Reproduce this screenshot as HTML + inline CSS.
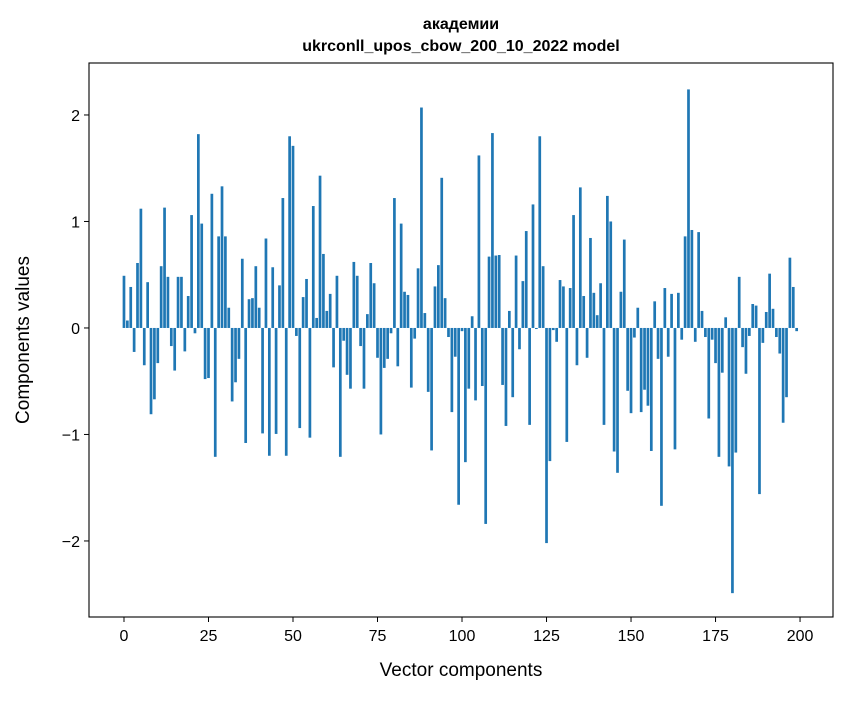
<!DOCTYPE html>
<html><head><meta charset="utf-8"><style>
body{margin:0;background:#fff;}
svg text{font-family:"Liberation Sans","DejaVu Sans",sans-serif;fill:#000;}
</style></head><body>
<svg id="chart" width="847" height="696" viewBox="0 0 847 696" xmlns="http://www.w3.org/2000/svg">
<rect x="0" y="0" width="847" height="696" fill="#fff"/>
<text x="461" y="29" text-anchor="middle" font-size="16" font-weight="bold">академии</text>
<text x="461" y="51" text-anchor="middle" font-size="16" font-weight="bold">ukrconll_upos_cbow_200_10_2022 model</text>
<g id="bars"></g>
<g id="xticks"></g>
<g id="yticks"></g>
<rect x="89" y="63" width="744" height="554" fill="none" stroke="#000" stroke-width="1.1"/>
<text x="461" y="676" text-anchor="middle" font-size="19">Vector components</text>
<text transform="translate(29,340) rotate(-90)" text-anchor="middle" font-size="19">Components values</text>
</svg>
<script>
const values = [0.49,0.07,0.385,-0.225,0.61,1.12,-0.35,0.43,-0.81,-0.67,
-0.33,0.58,1.13,0.48,-0.17,-0.40,0.48,0.48,-0.22,0.30,
1.06,-0.05,1.82,0.98,-0.48,-0.47,1.26,-1.21,0.86,1.33,
0.86,0.19,-0.69,-0.51,-0.29,0.65,-1.08,0.27,0.28,0.58,
0.19,-0.99,0.84,-1.20,0.57,-0.995,0.40,1.22,-1.20,1.80,
1.71,-0.075,-0.94,0.29,0.46,-1.03,1.145,0.094,1.43,0.695,
0.16,0.32,-0.37,0.49,-1.21,-0.12,-0.44,-0.57,0.62,0.49,
-0.17,-0.57,0.13,0.61,0.42,-0.28,-1.00,-0.375,-0.29,-0.05,
1.22,-0.36,0.98,0.34,0.31,-0.56,-0.10,0.56,2.07,0.14,
-0.60,-1.15,0.39,0.59,1.41,0.28,-0.085,-0.79,-0.27,-1.66,
-0.03,-1.26,-0.57,0.11,-0.68,1.62,-0.545,-1.84,0.67,1.83,
0.68,0.685,-0.535,-0.92,0.16,-0.65,0.68,-0.20,0.44,0.91,
-0.91,1.16,-0.01,1.80,0.58,-2.02,-1.25,-0.02,-0.13,0.45,
0.39,-1.07,0.375,1.06,-0.35,1.32,0.30,-0.28,0.845,0.33,
0.12,0.42,-0.91,1.24,1.00,-1.16,-1.36,0.34,0.83,-0.59,
-0.80,-0.09,0.19,-0.79,-0.58,-0.73,-1.155,0.25,-0.29,-1.67,
0.375,-0.27,0.32,-1.14,0.33,-0.11,0.86,2.24,0.92,-0.13,
0.90,0.16,-0.085,-0.85,-0.11,-0.33,-1.21,-0.42,0.10,-1.30,
-2.49,-1.17,0.48,-0.18,-0.43,-0.075,0.225,0.21,-1.56,-0.14,
0.15,0.51,0.18,-0.085,-0.24,-0.89,-0.65,0.66,0.385,-0.03];
const xTickValues = [0,25,50,75,100,125,150,175,200];
const yTickValues = [-2,-1,0,1,2];
const yTickLabels = ["\u22122","\u22121","0","1","2"];

const NS="http://www.w3.org/2000/svg";
const L=89,R=833,T=63,B=617;
const xMin=-10.35,xMax=209.75,yMin=-2.714,yMax=2.488;
const xs=v=>L+(v-xMin)/(xMax-xMin)*(R-L);
const ys=v=>T+(yMax-v)/(yMax-yMin)*(B-T);
const barsG=document.getElementById('bars');
values.forEach((v,i)=>{
  const r=document.createElementNS(NS,'rect');
  const x0=xs(i-0.4),x1=xs(i+0.4);
  const y0=ys(Math.max(v,0)),y1=ys(Math.min(v,0));
  r.setAttribute('x',x0);r.setAttribute('width',x1-x0);
  r.setAttribute('y',y0);r.setAttribute('height',Math.max(y1-y0,0.3));
  r.setAttribute('fill','#1f77b4');
  
  
  barsG.appendChild(r);
});
const xg=document.getElementById('xticks');
xTickValues.forEach(t=>{
  const x=xs(t);
  const l=document.createElementNS(NS,'line');
  l.setAttribute('x1',x);l.setAttribute('x2',x);l.setAttribute('y1',B);l.setAttribute('y2',B+5);
  l.setAttribute('stroke','#000');
  
  
  xg.appendChild(l);
  const tx=document.createElementNS(NS,'text');
  tx.setAttribute('x',x);tx.setAttribute('y',B+24);tx.setAttribute('text-anchor','middle');tx.setAttribute('font-size','16');
  tx.textContent=String(t);
  
  
  xg.appendChild(tx);
});
const yg=document.getElementById('yticks');
yTickValues.forEach((t,i)=>{
  const y=ys(t);
  const l=document.createElementNS(NS,'line');
  l.setAttribute('x1',L-5);l.setAttribute('x2',L);l.setAttribute('y1',y);l.setAttribute('y2',y);
  l.setAttribute('stroke','#000');
  
  
  yg.appendChild(l);
  const tx=document.createElementNS(NS,'text');
  tx.setAttribute('x',L-9);tx.setAttribute('y',y+6);tx.setAttribute('text-anchor','end');tx.setAttribute('font-size','16');
  tx.textContent=yTickLabels[i];
  
  
  yg.appendChild(tx);
});
</script>
</body></html>
